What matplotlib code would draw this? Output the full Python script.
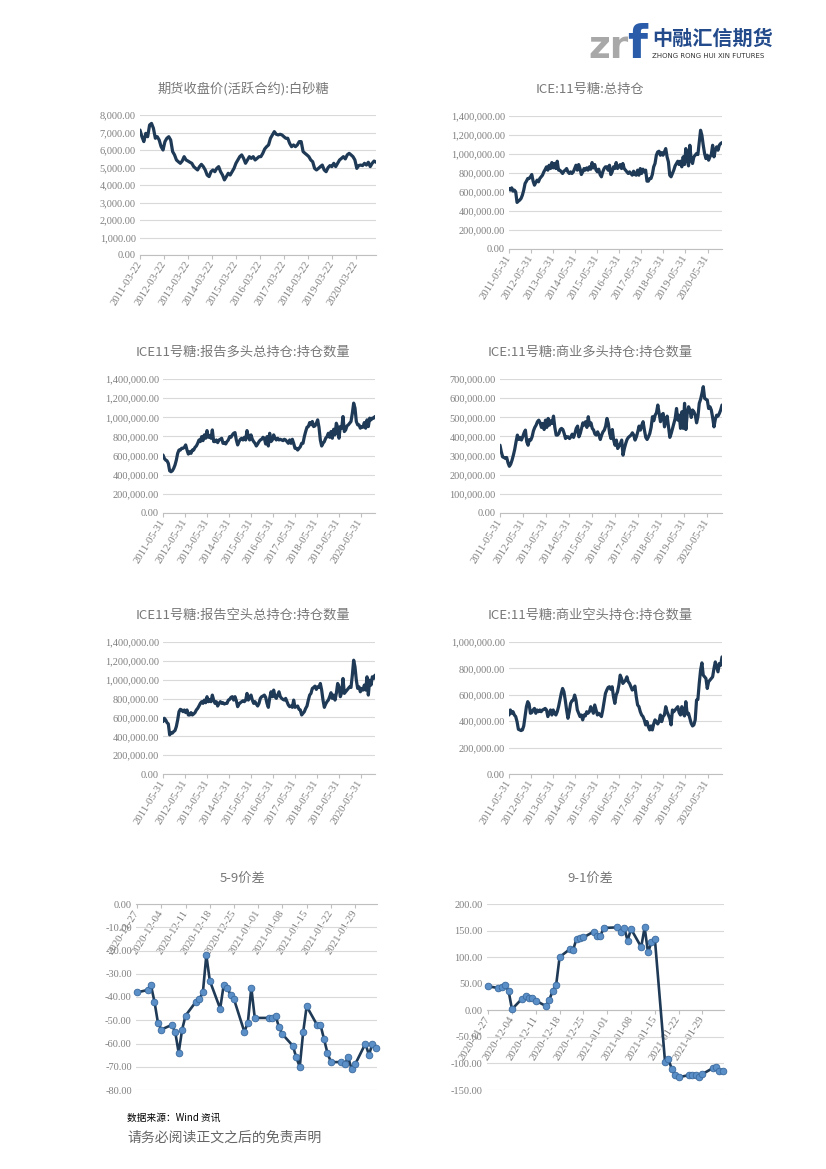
import matplotlib
matplotlib.use('Agg')
import matplotlib.pyplot as plt
import pandas as pd
import numpy as np
from matplotlib.ticker import FuncFormatter

plt.rcParams['font.family'] = ['Noto Sans CJK SC', 'DejaVu Sans']

# ---------------- data ----------------
titles = ['期货收盘价(活跃合约):白砂糖', 'ICE:11号糖:总持仓',
          'ICE11号糖:报告多头总持仓:持仓数量', 'ICE:11号糖:商业多头持仓:持仓数量',
          'ICE11号糖:报告空头总持仓:持仓数量', 'ICE:11号糖:商业空头持仓:持仓数量',
          '5-9价差', '9-1价差']

sugar_price = [7140, 6760, 6480, 6950, 6760, 7430, 7520, 7240, 6670, 6760, 6570, 6190, 6000, 6480,
               6670, 6760, 6570, 5910, 5720, 5430, 5330, 5240, 5370, 5620, 5430, 5370, 5300, 5240,
               5050, 4950, 4860, 5050, 5180, 5050, 4860, 4570, 4480, 4760, 4860, 4760, 4950, 5050,
               4760, 4570, 4290, 4480, 4670, 4570, 4760, 4950, 5240, 5430, 5620, 5720, 5520, 5240,
               5430, 5620, 5520, 5620, 5430, 5520, 5620, 5620, 5810, 6060, 6190, 6290, 6670, 6860,
               7050, 6900, 6860, 6900, 6860, 6760, 6670, 6670, 6380, 6190, 6290, 6190, 6290, 6480,
               6480, 5910, 5810, 5720, 5620, 5430, 5330, 4950, 4860, 4950, 5050, 5140, 4860, 4760,
               4990, 5110, 5050, 5240, 5050, 5240, 5430, 5520, 5620, 5490, 5720, 5810, 5720, 5620,
               5430, 4950, 5110, 5140, 5110, 5240, 5140, 5300, 5050, 5240, 5370, 5300]

ice_total_oi_k = [637, 620, 644, 609, 620, 602, 490, 504, 515, 532, 567, 620, 690, 714, 742, 742, 760,
                  784, 714, 672, 700, 725, 707, 742, 760, 777, 812, 837, 865, 830, 882, 847, 910, 854,
                  900, 847, 924, 830, 830, 812, 795, 819, 830, 847, 812, 795, 812, 795, 812, 847, 882,
                  830, 889, 847, 784, 812, 847, 830, 854, 830, 865, 840, 910, 854, 889, 830, 812, 840,
                  784, 760, 812, 847, 865, 865, 830, 882, 784, 812, 865, 847, 910, 847, 865, 889, 847,
                  900, 847, 830, 812, 795, 812, 795, 777, 819, 784, 777, 830, 777, 847, 795, 840, 812,
                  830, 714, 714, 742, 742, 784, 865, 900, 987, 1022, 1029, 987, 1015, 987, 1022, 1057,
                  970, 917, 777, 760, 795, 830, 875, 900, 924, 889, 924, 865, 970, 889, 1057, 952, 875,
                  1092, 935, 900, 970, 987, 1005, 994, 1127, 1250, 1197, 1092, 1005, 952, 987, 935, 970,
                  994, 1092, 970, 1040, 1075, 1040, 1092, 1110, 1120]

rep_long_k = [606, 571, 553, 546, 518, 441, 431, 441, 466, 501, 553, 623, 658, 658, 676, 676, 686, 711,
              658, 616, 641, 623, 658, 658, 686, 700, 728, 763, 746, 798, 756, 816, 781, 861, 791, 805,
              781, 868, 746, 746, 763, 735, 763, 770, 781, 728, 735, 721, 746, 763, 798, 791, 816, 833,
              840, 763, 711, 746, 770, 781, 763, 791, 763, 861, 798, 763, 816, 770, 746, 728, 700, 721,
              746, 763, 770, 791, 781, 721, 798, 700, 833, 746, 763, 816, 781, 763, 781, 763, 770, 763,
              756, 770, 763, 746, 728, 763, 728, 770, 728, 676, 676, 658, 676, 693, 728, 728, 798, 851,
              896, 903, 945, 921, 956, 903, 910, 938, 973, 896, 763, 700, 728, 746, 781, 798, 833, 791,
              851, 781, 875, 816, 938, 896, 781, 903, 886, 1008, 851, 868, 910, 921, 938, 956, 1043,
              1148, 1096, 956, 921, 921, 886, 903, 896, 945, 886, 973, 903, 991, 973, 991, 991, 1008]

comm_long_k = [354, 319, 293, 290, 285, 290, 262, 244, 255, 276, 302, 332, 372, 407, 384, 395, 381, 398,
               419, 433, 372, 354, 384, 381, 398, 429, 447, 459, 477, 485, 471, 447, 468, 436, 485, 447,
               494, 459, 482, 468, 506, 447, 407, 407, 415, 436, 442, 436, 415, 389, 398, 398, 389, 398,
               412, 395, 415, 442, 454, 398, 415, 442, 471, 459, 477, 447, 503, 459, 471, 442, 433, 412,
               407, 424, 407, 384, 407, 424, 433, 454, 494, 468, 415, 389, 436, 381, 354, 381, 337, 349,
               363, 381, 302, 337, 363, 384, 395, 401, 407, 419, 407, 381, 398, 424, 454, 433, 459, 477,
               433, 395, 384, 398, 415, 447, 503, 482, 511, 524, 564, 520, 477, 511, 520, 450, 485, 506,
               450, 395, 415, 442, 471, 494, 546, 485, 511, 442, 529, 442, 573, 436, 520, 555, 538, 499,
               538, 529, 511, 471, 503, 573, 594, 625, 660, 599, 594, 590, 546, 555, 538, 499, 450, 489,
               511, 506, 520, 538, 564]

rep_short_k = [556, 591, 573, 545, 531, 415, 440, 433, 450, 461, 503, 573, 661, 686, 679, 661, 679, 651,
               679, 626, 626, 651, 626, 637, 651, 679, 696, 721, 749, 767, 749, 784, 756, 820, 767, 791,
               767, 837, 784, 749, 767, 721, 749, 767, 749, 756, 742, 749, 749, 784, 791, 813, 820, 784,
               820, 777, 714, 742, 756, 767, 777, 767, 784, 855, 784, 813, 837, 784, 749, 767, 742, 721,
               749, 802, 820, 827, 837, 813, 749, 707, 802, 872, 820, 890, 820, 802, 837, 872, 820, 802,
               791, 784, 802, 767, 732, 714, 721, 707, 784, 707, 714, 721, 686, 679, 626, 644, 661, 696,
               721, 784, 837, 855, 908, 918, 932, 897, 925, 918, 960, 890, 784, 707, 742, 767, 784, 820,
               862, 802, 837, 784, 855, 960, 925, 820, 862, 1013, 855, 872, 890, 908, 925, 918, 1048,
               1207, 1136, 995, 908, 925, 872, 908, 890, 943, 890, 1031, 837, 995, 943, 1031, 1013, 1048]

comm_short_k = [447, 485, 460, 472, 447, 435, 397, 339, 334, 329, 334, 364, 435, 510, 548, 530, 460, 465,
                485, 497, 460, 485, 472, 485, 472, 485, 490, 497, 485, 435, 460, 485, 447, 485, 460, 447,
                472, 510, 560, 611, 648, 623, 560, 485, 422, 472, 535, 555, 560, 598, 560, 485, 460, 435,
                447, 410, 447, 440, 472, 460, 472, 510, 485, 460, 523, 485, 447, 460, 447, 435, 485, 548,
                611, 636, 656, 661, 641, 661, 585, 535, 598, 623, 673, 749, 724, 686, 699, 711, 736, 699,
                686, 661, 636, 648, 666, 585, 523, 510, 472, 447, 435, 410, 372, 397, 359, 334, 364, 334,
                379, 410, 397, 379, 397, 447, 397, 435, 447, 510, 472, 447, 422, 372, 485, 472, 485, 497,
                510, 465, 447, 510, 460, 440, 548, 455, 460, 422, 384, 364, 372, 410, 560, 565, 686, 786,
                842, 749, 736, 724, 648, 699, 711, 724, 736, 799, 849, 812, 774, 837, 824, 887]

spread_59 = [-38, -37, -35, -42, -51, -54, -52, -55, -64, -54, -48, -42, -41, -38, -22, -33, -45, -35,
             -36, -39, -41, -55, -51, -36, -49, -49, -49, -48, -53, -56, -61, -66, -70, -55, -44, -52,
             -52, -58, -64, -68, -68, -69, -66, -71, -69, -60, -65, -60, -62]

spread_91 = [45, 42, 43, 47, 37, 2, 22, 26, 23, 24, 18, 8, 20, 37, 48, 100, 115, 114, 135, 136, 137,
             148, 140, 140, 155, 156, 148, 155, 131, 153, 119, 156, 109, 128, 135, -97, -92, -111, -122,
             -126, -122, -122, -122, -126, -120, -109, -107, -115, -114]

# ---------------- style ----------------
W, H = 826, 1169
LINE = '#1F3A56'
GRID = '#D9D9D9'
AXC = '#BFBFBF'
TICKC = '#808080'
TITLEC = '#787878'
NUMFONT = ['Liberation Serif', 'DejaVu Serif']

fig = plt.figure(figsize=(W / 100, H / 100), dpi=100)
fig.patch.set_facecolor('white')


def rect(l, t, r, b):
    return [l / W, 1 - b / H, (r - l) / W, (b - t) / H]


def style_axes(ax):
    for s in ['top', 'right', 'left']:
        ax.spines[s].set_visible(False)
    ax.spines['bottom'].set_color(AXC)
    ax.spines['bottom'].set_linewidth(0.8)
    ax.yaxis.grid(True, color=GRID, lw=0.8)
    ax.set_axisbelow(True)
    ax.tick_params(axis='y', length=0, pad=3, labelsize=7.5, labelcolor=TICKC)
    ax.tick_params(axis='x', length=3, color=AXC, width=0.8, pad=2, labelsize=7.8, labelcolor=TICKC)


def set_fonts(ax):
    for lab in ax.get_yticklabels() + ax.get_xticklabels():
        lab.set_fontfamily(NUMFONT)


def date_labels(ax, ticks):
    ax.set_xticks(ticks)
    ax.set_xticklabels([t.strftime('%Y-%m-%d') for t in ticks], rotation=58,
                       ha='right', va='center', rotation_mode='anchor')


def ts_chart(box, title, title_xy, start, end, values, scale, ymax, ystep, tick_start):
    ax = fig.add_axes(rect(*box))
    style_axes(ax)
    dates = pd.date_range(start, end, periods=len(values))
    vals = np.array(values, dtype=float) * scale
    ax.plot(dates, vals, color=LINE, lw=2.3, solid_joinstyle='round', solid_capstyle='round')
    ax.set_xlim(dates[0], dates[-1])
    ax.set_ylim(0, ymax)
    ax.set_yticks(np.arange(0, ymax + 1, ystep))
    ax.yaxis.set_major_formatter(FuncFormatter(lambda v, p: f'{v:,.2f}'))
    date_labels(ax, pd.date_range(tick_start, periods=10, freq=pd.DateOffset(years=1)))
    set_fonts(ax)
    fig.text(title_xy[0] / W, 1 - title_xy[1] / H, title, ha='center', va='center',
             fontsize=9.5, color=TITLEC)
    return ax


ts_chart((140, 115, 376, 255), titles[0], (243, 89), '2011-03-22', '2021-01-22',
         sugar_price, 1, 8000, 1000, '2011-03-22')
ts_chart((509, 116, 722, 249), titles[1], (590, 89), '2011-05-31', '2021-01-26',
         ice_total_oi_k, 1000, 1400000, 200000, '2011-05-31')
ts_chart((163, 379, 375, 513), titles[2], (243, 352), '2011-05-31', '2021-01-26',
         rep_long_k, 1000, 1400000, 200000, '2011-05-31')
ts_chart((500, 379, 722, 513), titles[3], (590, 352), '2011-05-31', '2021-01-26',
         comm_long_k, 1000, 700000, 100000, '2011-05-31')
ts_chart((163, 642, 375, 774), titles[4], (243, 615), '2011-05-31', '2021-01-26',
         rep_short_k, 1000, 1400000, 200000, '2011-05-31')
ts_chart((509, 642, 722, 774), titles[5], (590, 615), '2011-05-31', '2021-01-26',
         comm_short_k, 1000, 1000000, 200000, '2011-05-31')

spread_dates = pd.bdate_range('2020-11-27', '2021-02-04', freq='C', holidays=['2021-01-01'])


def spread_chart(box, title, title_xy, values, ymin, ymax, ystep):
    ax = fig.add_axes(rect(*box))
    ax.spines['bottom'].set_position(('data', 0))
    style_axes(ax)
    ax.plot(spread_dates, values, color=LINE, lw=1.9, marker='o', ms=4.8,
            mfc='#5B8FC8', mec='#3A6A9E', mew=0.6, clip_on=False, zorder=3)
    ax.set_xlim(spread_dates[0] - pd.Timedelta(hours=8), spread_dates[-1] + pd.Timedelta(hours=8))
    ax.set_ylim(ymin, ymax)
    ax.set_yticks(np.arange(ymin, ymax + 1, ystep))
    ax.yaxis.set_major_formatter(FuncFormatter(lambda v, p: f'{v:.2f}'))
    date_labels(ax, pd.date_range('2020-11-27', periods=10, freq='7D'))
    set_fonts(ax)
    fig.text(title_xy[0] / W, 1 - title_xy[1] / H, title, ha='center', va='center',
             fontsize=9.5, color=TITLEC)
    return ax


spread_chart((136, 904, 377, 1090), titles[6], (243, 878), spread_59, -80, 0, 10)
spread_chart((487, 904, 724, 1090), titles[7], (590, 878), spread_91, -150, 200, 50)

# ---------------- header logo ----------------
fig.text(588 / W, 1 - 58 / H, 'zr', fontsize=27, color='#A8A8A8', fontweight='bold',
         family='DejaVu Sans', va='baseline', ha='left')
fig.text(627 / W, 1 - 58 / H, 'f', fontsize=33, color='#2A5CAA', fontweight='bold',
         family='DejaVu Sans', va='baseline', ha='left')
fig.text(652 / W, 1 - 38 / H, '中融汇信期货', fontsize=14.5, color='#234B8C', fontweight='bold',
         va='center', ha='left')
fig.text(652 / W, 1 - 56 / H, 'ZHONG RONG HUI XIN FUTURES', fontsize=5, color='#333333',
         va='center', ha='left', family='DejaVu Sans')

# ---------------- footer ----------------
fig.text(127 / W, 1 - 1118 / H, '数据来源：Wind 资讯', fontsize=7, color='#000000',
         va='center', ha='left')
fig.text(127 / W, 1 - 1138 / H, '请务必阅读正文之后的免责声明', fontsize=10, color='#666666',
         va='center', ha='left')

fig.savefig('out.png', dpi=100, facecolor='white')
